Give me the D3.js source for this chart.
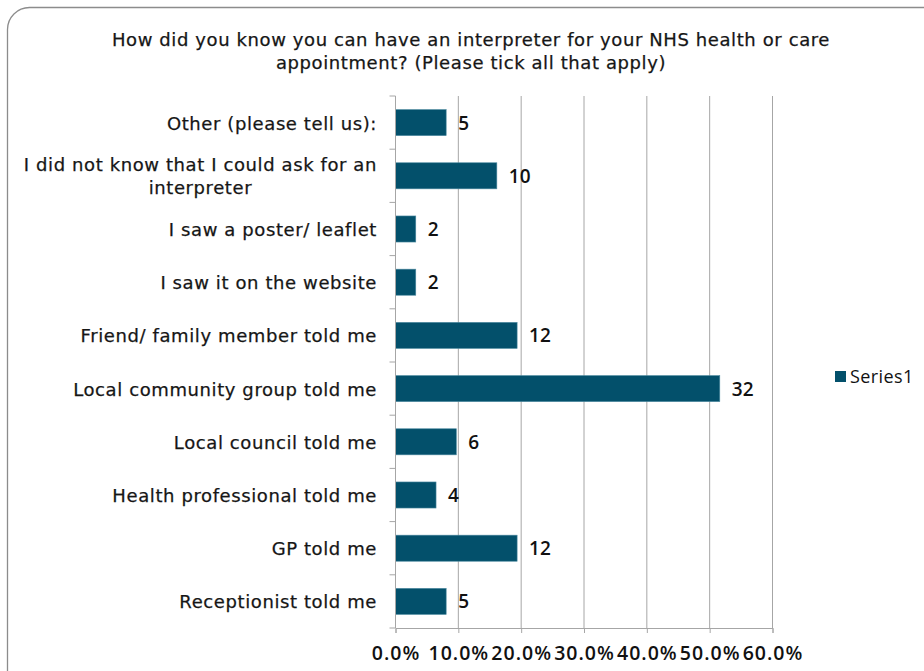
<!DOCTYPE html>
<html>
<head>
<meta charset="utf-8">
<script src="https://cdn.jsdelivr.net/npm/d3@7"></script>
<style>
  html, body { margin: 0; padding: 0; background: #ffffff; }
  svg { display: block; }
</style>
</head>
<body>
<svg id="chart" width="924" height="671"></svg>
<script>
// Survey responses: how people learned they could ask for an interpreter
const categories = [
  "Other (please tell us):",
  "I did not know that I could ask for an interpreter",
  "I saw a poster/ leaflet",
  "I saw it on the website",
  "Friend/ family member told me",
  "Local community group told me",
  "Local council told me",
  "Health professional told me",
  "GP told me",
  "Receptionist told me"
];
const counts = [5, 10, 2, 2, 12, 32, 6, 4, 12, 5];
const respondents = 62;
const xTicks = [0, 0.1, 0.2, 0.3, 0.4, 0.5, 0.6];
const seriesName = "Series1";
const titleLines = [
  "How did you know you can have an interpreter for your NHS health or care",
  "appointment? (Please tick all that apply)"
];

const svg = d3.select("#chart");
const barColor = "#03506b";
const gridColor = "#a6a6a6";
const textColor = "#161616";
const labelFont = "'DejaVu Sans', sans-serif";
const numFont = "'Open Sans', 'Liberation Sans', sans-serif";

// Outer rounded frame
svg.append("rect")
  .attr("x", 7.5).attr("y", 7.5)
  .attr("width", 940).attr("height", 690)
  .attr("rx", 22).attr("ry", 22)
  .attr("fill", "#ffffff")
  .attr("stroke", "#8c8c8c")
  .attr("stroke-width", 1.3);

// Title
svg.append("text")
  .attr("x", 471).attr("y", 46)
  .attr("text-anchor", "middle")
  .attr("font-family", labelFont)
  .attr("font-size", 18)
  .attr("letter-spacing", 0.6)
  .attr("fill", textColor)
  .attr("stroke", textColor).attr("stroke-width", 0.25)
  .selectAll("tspan")
  .data(titleLines)
  .join("tspan")
  .attr("x", 471)
  .attr("dy", (d, i) => i === 0 ? 0 : 23)
  .text(d => d);

const plot = { left: 395.5, right: 772.5, top: 96, bottom: 628 };

const x = d3.scaleLinear().domain([0, 0.6]).range([plot.left, plot.right]);
const y = d3.scaleBand().domain(categories)
  .range([plot.top, plot.bottom])
  .paddingInner(0.51).paddingOuter(0.255);

const data = categories.map((c, i) => ({ cat: c, n: counts[i], p: counts[i] / respondents }));

// Vertical gridlines
svg.append("g")
  .selectAll("line")
  .data(xTicks.slice(1))
  .join("line")
  .attr("x1", d => x(d)).attr("x2", d => x(d))
  .attr("y1", plot.top).attr("y2", plot.bottom)
  .attr("stroke", gridColor).attr("stroke-width", 1);

// Bars
svg.append("g")
  .selectAll("rect")
  .data(data)
  .join("rect")
  .attr("x", x(0))
  .attr("y", d => y(d.cat))
  .attr("width", d => x(d.p) - x(0))
  .attr("height", y.bandwidth())
  .attr("fill", barColor)
  .attr("stroke", "#4d8aa0")
  .attr("stroke-width", 0.6);

// X axis
const xAxis = d3.axisBottom(x)
  .tickValues(xTicks)
  .tickFormat(d3.format(".1%"))
  .tickSize(5)
  .tickPadding(13);
const gx = svg.append("g")
  .attr("transform", `translate(0,${plot.bottom})`)
  .call(xAxis);
gx.select(".domain").attr("stroke", gridColor);
gx.selectAll(".tick line").attr("stroke", gridColor);
gx.selectAll(".tick text")
  .attr("font-family", numFont)
  .attr("font-size", 19.5)
  .attr("font-weight", 600)
  .attr("letter-spacing", 1)
  .attr("fill", "#111");

// Y axis with ticks at the category boundaries
const boundaries = d3.range(categories.length + 1).map(i => plot.top + i * y.step());
const gy = svg.append("g");
gy.append("line")
  .attr("x1", plot.left).attr("x2", plot.left)
  .attr("y1", plot.top).attr("y2", plot.bottom)
  .attr("stroke", gridColor);
gy.selectAll("line.tk")
  .data(boundaries)
  .join("line")
  .attr("class", "tk")
  .attr("x1", plot.left - 6).attr("x2", plot.left)
  .attr("y1", d => d).attr("y2", d => d)
  .attr("stroke", gridColor);

// Category labels (wrapped when too long, continuation lines centred)
const maxLabelWidth = 365;
const labelRight = 377;
const catLabels = svg.append("g")
  .attr("font-family", labelFont)
  .attr("font-size", 18)
  .attr("letter-spacing", 0.6)
  .attr("fill", textColor)
  .attr("stroke", textColor).attr("stroke-width", 0.25)
  .attr("text-anchor", "end");

data.forEach(d => {
  const t = catLabels.append("text");
  const words = d.cat.split(" ");
  let lines = [], line = [];
  const probe = t.append("tspan");
  words.forEach(w => {
    const trial = line.concat(w).join(" ");
    probe.text(trial);
    if (probe.node().getComputedTextLength() > maxLabelWidth && line.length) {
      lines.push(line.join(" "));
      line = [w];
    } else {
      line.push(w);
    }
  });
  lines.push(line.join(" "));
  probe.remove();
  const cy = y(d.cat) + y.bandwidth() / 2;
  const lh = 23;
  const y0 = cy - (lines.length - 1) * lh / 2 + 7;
  lines.forEach((l, i) => {
    t.append("tspan")
      .attr("x", labelRight)
      .attr("y", y0 + i * lh)
      .attr("text-anchor", i > 0 ? "middle" : "end")
      .text(l);
  });
  if (lines.length > 1) {
    const w0 = t.select("tspan").node().getComputedTextLength();
    t.selectAll("tspan").filter((_, i) => i > 0).attr("x", labelRight - w0 / 2);
  }
});

// Value labels
svg.append("g")
  .selectAll("text")
  .data(data)
  .join("text")
  .attr("x", d => x(d.p) + 12)
  .attr("y", d => y(d.cat) + y.bandwidth() / 2 + 7)
  .attr("font-family", numFont)
  .attr("font-size", 19)
  .attr("font-weight", 600)
  .attr("fill", "#111")
  .text(d => d.n);

// Legend
const lg = svg.append("g").attr("transform", "translate(835,371)");
lg.append("rect").attr("width", 11).attr("height", 11).attr("fill", barColor);
lg.append("text")
  .attr("x", 15).attr("y", 12)
  .attr("font-family", numFont)
  .attr("font-size", 18)
  .attr("letter-spacing", 0.4)
  .attr("fill", "#111")
  .text(seriesName);
</script>
</body>
</html>
